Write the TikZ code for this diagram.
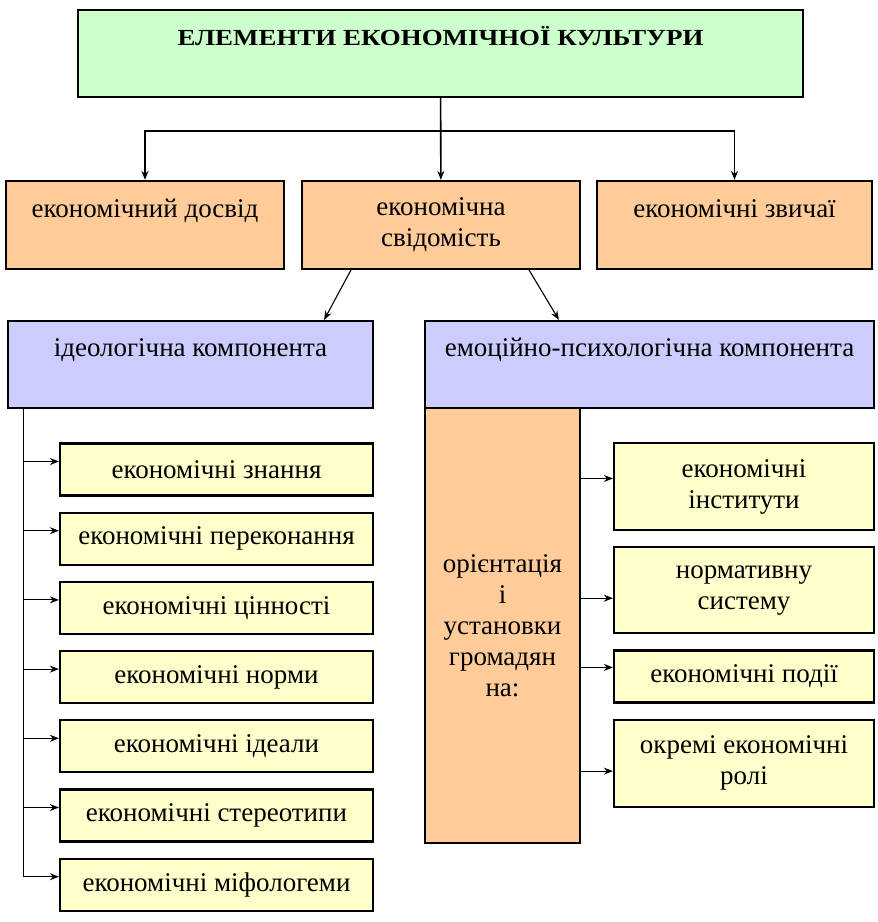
\documentclass[tikz,border=0pt]{standalone}
\usepackage{fontspec}
\setmainfont{Liberation Serif}
\newfontfamily\titlefont{Liberation Serif}[FakeStretch=1.17]
\usetikzlibrary{arrows.meta,positioning}

\definecolor{headgreen}{HTML}{CCFFCC}
\definecolor{partorange}{HTML}{FFCC99}
\definecolor{compblue}{HTML}{CCCCFF}
\definecolor{itemyellow}{HTML}{FFFFCC}

\begin{document}
\begin{tikzpicture}[x=1pt,y=-1pt,->,>={Stealth[length=9pt,width=7pt]},line width=1.6pt,
    box/.style={draw,line width=2.2pt,align=center,inner sep=2pt,font=\fontsize{27}{31}\selectfont},
    toptext/.style={text height=19pt,text depth=35pt},
    head/.style={box,toptext,fill=headgreen,minimum width=725pt,minimum height=87pt,
      font=\titlefont\bfseries\fontsize{23}{27}\selectfont},
    part/.style={box,fill=partorange,minimum width=278pt,minimum height=88pt},
    comp/.style={box,toptext,fill=compblue,minimum height=87pt},
    item/.style={box,fill=itemyellow,minimum width=313pt,minimum height=52pt},
    target/.style={box,fill=itemyellow,minimum width=260pt,minimum height=52pt},
    thin/.style={line width=1.1pt}]
\useasboundingbox (0,0) rectangle (878,922);

\node[head] (title) at (440.5,53.5) {ЕЛЕМЕНТИ ЕКОНОМІЧНОЇ КУЛЬТУРИ};

\node[part,toptext] (exp) at (145,225) {економічний досвід};
\node[part] (cons) at (441,225) {економічна\\свідомість};
\node[part,toptext,minimum width=275pt] (cust) at (734.5,225) {економічні звичаї};

\node[comp,minimum width=365pt] (ideo) at (190.5,364.5) {ідеологічна компонента};
\node[comp,minimum width=449pt] (emo) at (649.5,364.5) {емоційно-психологічна компонента};

\node[box,fill=partorange,minimum width=155pt,minimum height=435pt] (orient) at (502.5,625.5)
  {орієнтація\\і\\установки\\громадян\\на:};

% ideological items
\node[item] (y1) at (216.5,469.5) {економічні знання};
\node[item,below=15pt of y1] (y2) {економічні переконання};
\node[item,below=15pt of y2] (y3) {економічні цінності};
\node[item,below=15pt of y3] (y4) {економічні норми};
\node[item,below=15pt of y4] (y5) {економічні ідеали};
\node[item,below=15pt of y5] (y6) {економічні стереотипи};
\node[item,below=15pt of y6] (y7) {економічні міфологеми};

% orientation targets
\node[target,minimum height=87pt] (r1) at (744,486.5) {економічні\\інститути};
\node[target,minimum height=86pt,below=15pt of r1] (r2) {нормативну\\систему};
\node[target,below=15pt of r2] (r3) {економічні події};
\node[target,minimum height=87pt,below=15pt of r3] (r4) {окремі економічні\\ролі};

% top level
\coordinate (split) at (440,131);
\draw (title) -- (cons);
\draw (split) -| (exp);
\draw (split) -| (cust);

\draw[thin] ([xshift=50pt]cons.south west) -- ([xshift=-50pt]ideo.north east);
\draw[thin] ([xshift=-52pt]cons.south east) -- ([xshift=135pt]emo.north west);

% left spine
\coordinate (spine) at ([xshift=17pt]ideo.south west);
\foreach \n in {1,...,7}
  \coordinate (a\n) at ([yshift=8pt]y\n.west);
\draw[thin] (spine) |- (a7);
\foreach \n in {1,...,6}
  \draw[thin] (a\n -| spine) -- (a\n);

% right arrows
\foreach \n/\s in {1/8,2/-8,3/9,4/-8}{
  \coordinate (b\n) at ([yshift=\s pt]r\n.west);
  \draw[thin] (b\n -| orient.east) -- (b\n);
}
\end{tikzpicture}
\end{document}
